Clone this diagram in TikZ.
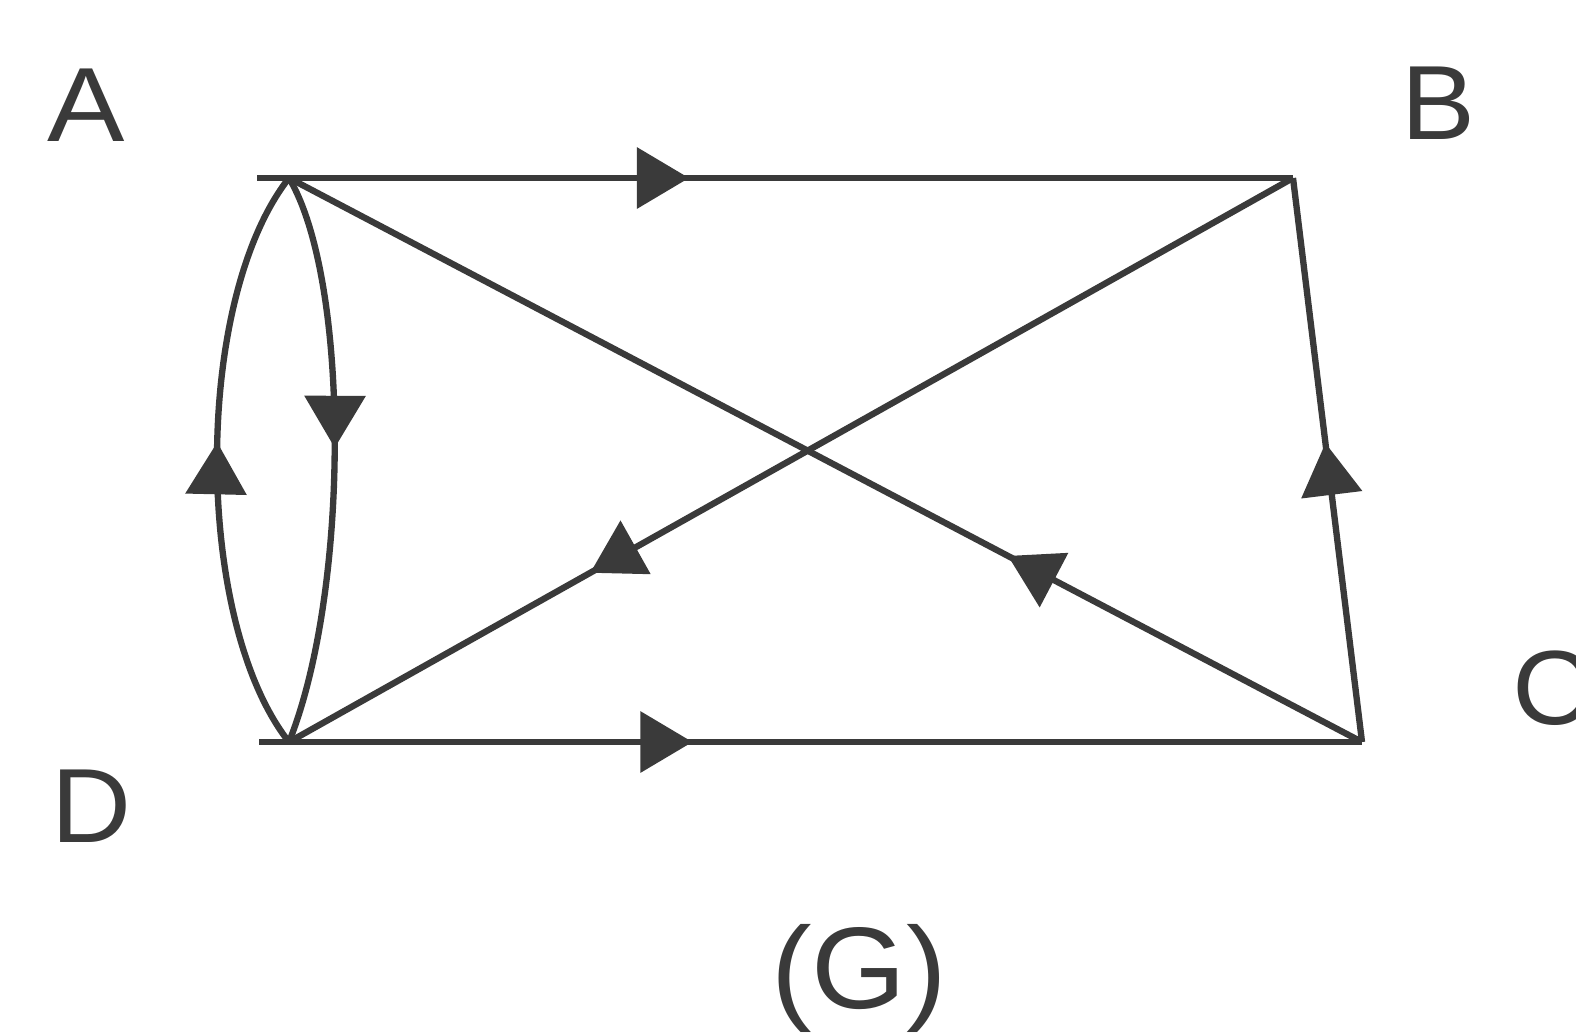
\documentclass[tikz,border=0pt]{standalone}
\usepackage{fontspec}
\setmainfont{Liberation Sans}
\usetikzlibrary{arrows.meta,decorations.markings}
\definecolor{ink}{HTML}{3A3A3A}
\tikzset{
  edge/.style={draw=ink, line width=1.8pt},
  midarrow/.style={postaction={decorate}, decoration={markings, mark=at position #1 with {\arrow[ink]{Triangle[length=0.52cm,width=0.6cm]}}}},
  lbl/.style={text=ink, font=\fontsize{30}{36}\selectfont, inner sep=0pt, anchor=base},
}
\begin{document}
\begin{tikzpicture}[x=0.01cm,y=-0.01cm]
\useasboundingbox (0,0) rectangle (1576,1032);
\coordinate (A) at (289,178);
\coordinate (B) at (1293,178);
\coordinate (C) at (1362,742);
\coordinate (D) at (289,742);
\coordinate (A0) at (257,178);
\coordinate (D0) at (259,742);
% labels
\node[lbl, xscale=1.1] (lA) at (86,141) {A};
\node[lbl, xscale=1.05] (lB) at (1438,139) {B};
\node[lbl, anchor=base west, xscale=1.05] (lC) at (1512,724) {C};
\node[lbl, xscale=1.05] (lD) at (91,842) {D};
\node[lbl, font=\fontsize{33}{40}\selectfont, xscale=1.05] (lG) at (859,1008) {(G)};
% edges
\draw[edge, midarrow=0.417] (A0) -- (B);
\draw[edge, midarrow=0.393] (D0) -- (C);
\draw[edge, midarrow=0.53] (C) -- (B);
\draw[edge, midarrow=0.33] (C) -- (A);
\draw[edge, midarrow=0.70] (B) -- (D);
\draw[edge, midarrow=0.53] (D) .. controls (193,620) and (193,300) .. (A);
\draw[edge, midarrow=0.48] (A) .. controls (350,280) and (350,590) .. (D);
\end{tikzpicture}
\end{document}
